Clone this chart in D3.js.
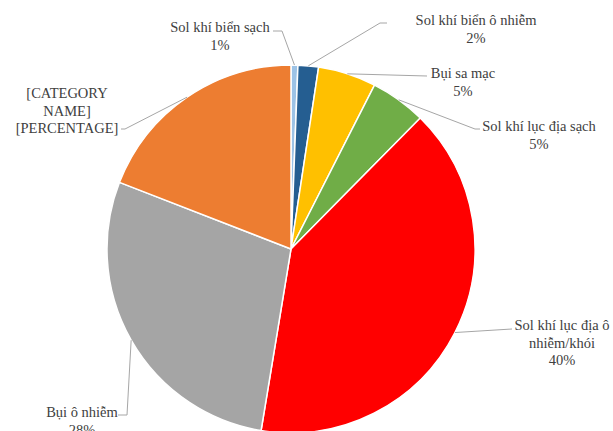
<!DOCTYPE html>
<html>
<head>
<meta charset="utf-8">
<script src="https://cdn.jsdelivr.net/npm/d3@7"></script>
<style>
  html, body { margin: 0; padding: 0; background: #fff; }
  svg { display: block; }
  svg text { font-family: "Times New Roman", "Liberation Serif", Tinos, "DejaVu Serif", serif; }
</style>
</head>
<body>
<svg id="chart" width="613" height="431"></svg>
<script>
// Aerosol type shares (%)
const categories = [
  "Sol khí biển sạch",
  "Sol khí biển ô nhiễm",
  "Bụi sa mạc",
  "Sol khí lục địa sạch",
  "Sol khí lục địa ô nhiễm/khói",
  "Bụi ô nhiễm",
  "[CATEGORY NAME]"
];
const values = [0.6, 1.8, 5.1, 4.9, 40.2, 28.3, 19.1];
const colors = ["#9DC3E6", "#255E91", "#FFC000", "#70AD47", "#FF0000", "#A5A5A5", "#ED7D31"];

// How each category name is wrapped in its label
const nameLines = [
  ["Sol khí biển sạch"],
  ["Sol khí biển ô nhiễm"],
  ["Bụi sa mạc"],
  ["Sol khí lục địa sạch"],
  ["Sol khí lục địa ô", "nhiễm/khói"],
  ["Bụi ô nhiễm"],
  ["[CATEGORY", "NAME]"]
];
// Slices whose percentage is shown as a placeholder field
const placeholderPct = [false, false, false, false, false, false, true];

// Label layout: text block centre x, first line y, and leader path points after the slice edge
const labelLayout = [
  { x: 220, y: 27, leader: [[282, 31], [273, 31]] },
  { x: 476, y: 20, leader: [[380, 23], [387, 23]] },
  { x: 463, y: 73, leader: [[427, 76]] },
  { x: 539, y: 126, leader: [[475, 129], [480, 129]] },
  { x: 562, y: 325, leader: [[512, 329]] },
  { x: 82, y: 412, leader: [[127, 415], [118, 415]] },
  { x: 67, y: 93, leader: [[125, 129], [121, 129]] }
];

const cx = 291, cy = 249, radius = 184;
const lineGap = 17.5;

const svg = d3.select("#chart");
const g = svg.append("g").attr("transform", `translate(${cx},${cy})`);

const total = d3.sum(values);
const pct = d3.format(".0%");

const pie = d3.pie().sort(null).value(d => d)(values);
const arc = d3.arc().innerRadius(0).outerRadius(radius);

g.selectAll("path.slice")
  .data(pie)
  .join("path")
  .attr("class", "slice")
  .attr("d", arc)
  .attr("fill", (d, i) => colors[i])
  .attr("stroke", "#fff")
  .attr("stroke-width", 1.5)
  .attr("stroke-linejoin", "round");

// Leader lines from each slice's outer mid-point
const edgePoint = d => {
  const a = (d.startAngle + d.endAngle) / 2;
  return [cx + radius * Math.sin(a), cy - radius * Math.cos(a)];
};

svg.selectAll("polyline.leader")
  .data(pie)
  .join("polyline")
  .attr("class", "leader")
  .attr("points", (d, i) => [edgePoint(d), ...labelLayout[i].leader].map(p => p.join(",")).join(" "))
  .attr("fill", "none")
  .attr("stroke", "#A6A6A6")
  .attr("stroke-width", 1);

// Labels: wrapped category name then percentage
const labels = svg.selectAll("text.label")
  .data(pie)
  .join("text")
  .attr("class", "label")
  .attr("text-anchor", "middle")
  .attr("font-size", 14.5)
  .attr("fill", "#404040");

labels.each(function (d, i) {
  const lines = nameLines[i].concat(placeholderPct[i] ? ["[PERCENTAGE]"] : [pct(values[i] / total)]);
  d3.select(this).selectAll("tspan")
    .data(lines)
    .join("tspan")
    .attr("x", labelLayout[i].x)
    .attr("y", (t, k) => labelLayout[i].y + k * lineGap)
    .attr("dy", "0.35em")
    .text(t => t);
});
</script>
</body>
</html>
